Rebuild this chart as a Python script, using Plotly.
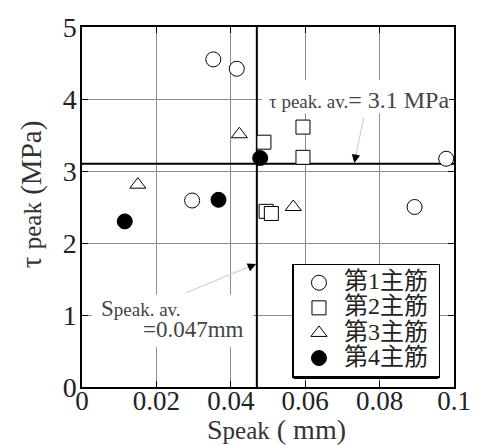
import plotly.graph_objects as go

# Peak bond stress vs. slip at peak, by bar position
bar1_x = [0.0353, 0.0416, 0.0296, 0.0979, 0.0894]
bar1_y = [4.55, 4.42, 2.59, 3.17, 2.50]
bar2_x = [0.0489, 0.0594, 0.0594, 0.0495, 0.0509]
bar2_y = [3.40, 3.61, 3.19, 2.44, 2.41]
bar3_x = [0.0423, 0.0150, 0.0568]
bar3_y = [3.51, 2.81, 2.50]
bar4_x = [0.0479, 0.0367, 0.0115]
bar4_y = [3.18, 2.60, 2.30]

series_names = ["第1主筋", "第2主筋", "第3主筋", "第4主筋"]
s_avg = 0.047     # mm
tau_avg = 3.1     # MPa

x_ticks = [0, 0.02, 0.04, 0.06, 0.08, 0.1]
x_tick_text = ["0", "0.02", "0.04", "0.06", "0.08", "0.1"]
y_ticks = [0, 1, 2, 3, 4, 5]

SERIF = "Liberation Serif, Noto Sans CJK JP, serif"
W, H = 483, 445
ML, MR, MT, MB = 82, 21, 25, 58
PW, PH = W - ML - MR, H - MT - MB


def px_to_paper(px, py):
    return (px - ML) / PW, (H - MB - py) / PH


def legend_label(s):
    return f"<span style='font-size:24px'>{s}&nbsp;</span>"


fig = go.Figure()

# average lines
fig.add_trace(go.Scatter(x=[s_avg, s_avg], y=[0, 5], mode="lines",
                         line=dict(color="black", width=2), showlegend=False, hoverinfo="skip"))
fig.add_trace(go.Scatter(x=[0, 0.1], y=[tau_avg, tau_avg], mode="lines",
                         line=dict(color="black", width=2), showlegend=False, hoverinfo="skip"))

marker_line = dict(color="black", width=1)
fig.add_trace(go.Scatter(x=bar1_x, y=bar1_y, mode="markers", name=legend_label(series_names[0]),
                         marker=dict(symbol="circle", size=15, color="white", line=marker_line)))
fig.add_trace(go.Scatter(x=bar2_x, y=bar2_y, mode="markers", name=legend_label(series_names[1]),
                         marker=dict(symbol="square", size=14, color="white", line=marker_line)))
fig.add_trace(go.Scatter(x=bar3_x, y=bar3_y, mode="markers", name=legend_label(series_names[2]),
                         marker=dict(symbol="triangle-up", size=14, color="white", line=marker_line)))
fig.add_trace(go.Scatter(x=bar4_x, y=bar4_y, mode="markers", name=legend_label(series_names[3]),
                         marker=dict(symbol="circle", size=15, color="black", line=marker_line)))

shapes = []
# legend drop shadow
lx0, ly0 = px_to_paper(298, 379)
lx1, ly1 = px_to_paper(446, 267)
shapes.append(dict(type="rect", xref="paper", yref="paper", x0=lx0, y0=ly0, x1=lx1, y1=ly1,
                   fillcolor="black", line=dict(width=0), layer="above"))
# white backing behind the two average labels
for (px0, py0, px1, py1) in [(266, 78, 457, 112), (92, 294, 257, 347)]:
    bx0, by0 = px_to_paper(px0, py1)
    bx1, by1 = px_to_paper(px1, py0)
    shapes.append(dict(type="rect", xref="paper", yref="paper", x0=bx0, y0=by0, x1=bx1, y1=by1,
                       fillcolor="white", line=dict(width=0), layer="above"))

annotations = []
# tau average label and arrow
annotations.append(dict(x=0.0732, y=3.11, ax=0.0758, ay=3.76, axref="x", ayref="y",
                        text="", showarrow=True, arrowhead=0, arrowwidth=1, arrowcolor="#c8c8c8"))
annotations.append(dict(x=0.0732, y=3.11, ax=2, ay=-10, text="", showarrow=True,
                        arrowhead=2, arrowsize=1.3, arrowwidth=1.3, arrowcolor="black"))
annotations.append(dict(x=0.0745, y=3.99, xref="x", yref="y", showarrow=False,
                        xanchor="center", yanchor="middle",
                        text="<span style='font-size:19px'>τ peak. av.</span>= 3.1 MPa",
                        font=dict(family=SERIF, size=24, color="#444")))
# slip average label and arrow
annotations.append(dict(x=0.0468, y=1.71, ax=0.0276, ay=1.30, axref="x", ayref="y",
                        text="", showarrow=True, arrowhead=0, arrowwidth=1, arrowcolor="#c8c8c8"))
annotations.append(dict(x=0.0468, y=1.71, ax=-9, ay=4, text="", showarrow=True,
                        arrowhead=2, arrowsize=1.3, arrowwidth=1.3, arrowcolor="black"))
annotations.append(dict(x=0.0047, y=(387 - 308) / 72.4, xref="x", yref="y",
                        xanchor="left", yanchor="middle", showarrow=False,
                        text="S<span style='font-size:19px'>peak. av.</span>",
                        font=dict(family=SERIF, size=23, color="#444")))
annotations.append(dict(x=0.0158, y=(387 - 329) / 72.4, xref="x", yref="y",
                        xanchor="left", yanchor="middle", showarrow=False,
                        text="=0.047mm",
                        font=dict(family=SERIF, size=23, color="#444")))
# axis titles
tx, ty = px_to_paper(281, 430)
annotations.append(dict(x=tx, y=ty, xref="paper", yref="paper", showarrow=False,
                        xanchor="center", yanchor="middle",
                        text="S<span style='font-size:25px'>peak</span> ( mm)",
                        font=dict(family=SERIF, size=28, color="#333")))
tx, ty = px_to_paper(30, 194)
annotations.append(dict(x=tx, y=ty, xref="paper", yref="paper", showarrow=False, textangle=-90,
                        xanchor="center", yanchor="middle",
                        text="τ <span style='font-size:25px'>peak</span> (MPa)",
                        font=dict(family=SERIF, size=29, color="#333")))

axis_common = dict(showgrid=True, gridcolor="#8c8c8c", gridwidth=1,
                   showline=True, linecolor="black", linewidth=1.5, mirror="ticks",
                   ticks="inside", ticklen=6, tickcolor="black", tickwidth=1,
                   zeroline=False)

fig.update_layout(
    width=W, height=H,
    margin=dict(l=ML, r=MR, t=MT, b=MB),
    paper_bgcolor="white", plot_bgcolor="white",
    xaxis=dict(range=[0, 0.1], tickvals=x_ticks, ticktext=x_tick_text, ticklabelstandoff=-11,
               tickfont=dict(family=SERIF, size=27, color="#222"), **axis_common),
    yaxis=dict(range=[0, 5], tickvals=y_ticks, ticklabelstandoff=-2,
               tickfont=dict(family=SERIF, size=28, color="#222"), **axis_common),
    legend=dict(x=px_to_paper(297, 0)[0], y=px_to_paper(0, 263)[1], xanchor="left", yanchor="top",
                bgcolor="white", bordercolor="black", borderwidth=1.5,
                font=dict(family=SERIF, size=17, color="#222"),
                tracegroupgap=0, itemwidth=40),
    shapes=shapes,
    annotations=annotations,
    showlegend=True,
)

fig.write_html("out.html")
